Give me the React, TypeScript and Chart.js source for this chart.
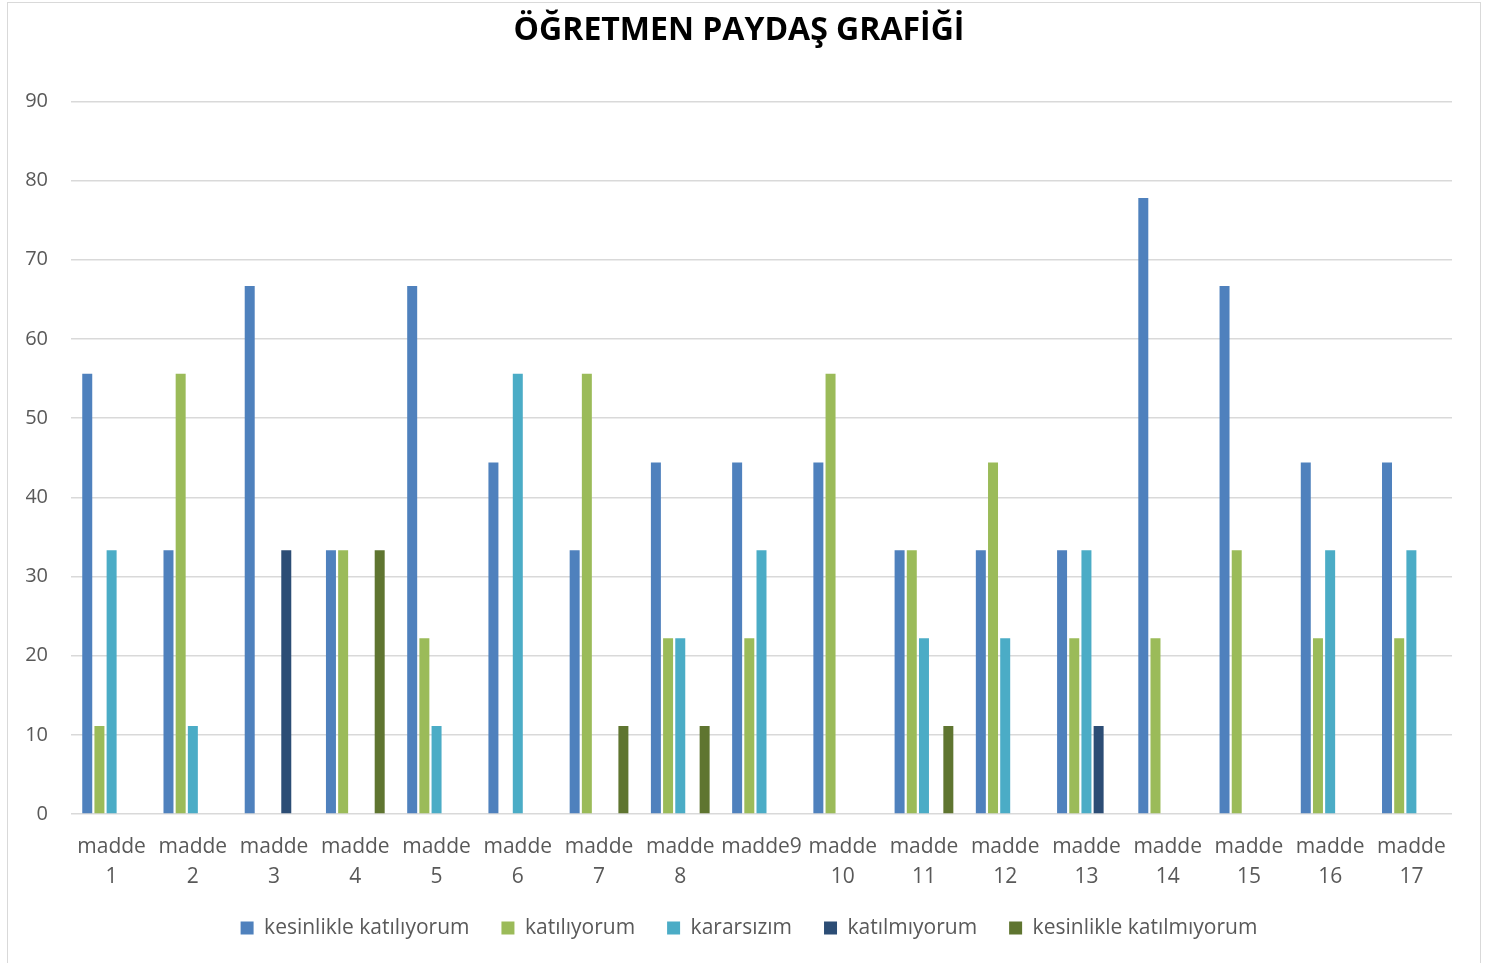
import React, { useEffect, useRef } from "react";
import { Chart, registerables } from "chart.js";

Chart.register(...registerables);

const categories: (string | string[])[] = [
  ["madde", "1"], ["madde", "2"], ["madde", "3"], ["madde", "4"], ["madde", "5"],
  ["madde", "6"], ["madde", "7"], ["madde", "8"], "madde9", ["madde", "10"],
  ["madde", "11"], ["madde", "12"], ["madde", "13"], ["madde", "14"], ["madde", "15"],
  ["madde", "16"], ["madde", "17"],
];

const kesinlikleKatiliyorum = [55.6, 33.3, 66.7, 33.3, 66.7, 44.4, 33.3, 44.4, 44.4, 44.4, 33.3, 33.3, 33.3, 77.8, 66.7, 44.4, 44.4];
const katiliyorum = [11.1, 55.6, 0, 33.3, 22.2, 0, 55.6, 22.2, 22.2, 55.6, 33.3, 44.4, 22.2, 22.2, 33.3, 22.2, 22.2];
const kararsizim = [33.3, 11.1, 0, 0, 11.1, 55.6, 0, 22.2, 33.3, 0, 22.2, 22.2, 33.3, 0, 0, 33.3, 33.3];
const katilmiyorum = [0, 0, 33.3, 0, 0, 0, 0, 0, 0, 0, 0, 0, 11.1, 0, 0, 0, 0];
const kesinlikleKatilmiyorum = [0, 0, 0, 33.3, 0, 0, 11.1, 11.1, 0, 0, 11.1, 0, 0, 0, 0, 0, 0];

const seriesNames = ["kesinlikle katılıyorum", "katılıyorum", "kararsızım", "katılmıyorum", "kesinlikle katılmıyorum"];
const seriesColors = ["#4F81BD", "#9BBB59", "#4BACC6", "#2C4D75", "#5F7530"];
const yTicks = [0, 10, 20, 30, 40, 50, 60, 70, 80, 90];

const FONT = "'Open Sans', sans-serif";
const TEXT = "#595959";

const legendShift = {
  id: "legendShift",
  afterLayout(chart: any) {
    const lg = chart.legend;
    if (lg) {
      lg.left += 10;
      lg.right += 10;
      if (typeof lg.adjustHitBoxes === "function") lg.adjustHitBoxes();
    }
  },
};

export default function App() {
  const ref = useRef<HTMLCanvasElement | null>(null);
  useEffect(() => {
    if (!ref.current) return;
    const values = [kesinlikleKatiliyorum, katiliyorum, kararsizim, katilmiyorum, kesinlikleKatilmiyorum];
    const chart = new Chart(ref.current, {
      type: "bar",
      data: {
        labels: categories,
        datasets: values.map((v, i) => ({
          label: seriesNames[i],
          data: v,
          backgroundColor: seriesColors[i],
          borderWidth: 0,
          barPercentage: 0.82,
          categoryPercentage: 0.75,
        })),
      },
      options: {
        animation: false,
        responsive: false,
        layout: { padding: { left: 26, right: 38, top: 12, bottom: 14.5 } },
        plugins: {
          title: {
            display: true,
            text: "ÖĞRETMEN PAYDAŞ GRAFİĞİ",
            color: "#000000",
            font: { family: FONT, size: 32, weight: "bold" },
            padding: { top: 0, bottom: 51 },
          },
          legend: {
            position: "bottom",
            labels: {
              color: TEXT,
              font: { family: FONT, size: 21 },
              boxWidth: 13,
              boxHeight: 13,
              padding: 32,
            },
          },
          tooltip: { enabled: false },
        },
        scales: {
          x: {
            grid: { display: false },
            border: { display: false },
            ticks: {
              color: TEXT,
              font: { family: FONT, size: 21, lineHeight: 1.43 },
              maxRotation: 0,
              autoSkip: false,
              padding: 10,
            },
            afterFit: (s: any) => { s.height = 71.5; },
          },
          y: {
            min: 0,
            max: 90,
            afterBuildTicks: (s: any) => { s.ticks = yTicks.map((v) => ({ value: v })); },
            grid: { color: "#D9D9D9", lineWidth: 1.5, drawTicks: false },
            border: { display: false },
            ticks: {
              color: TEXT,
              font: { family: FONT, size: 20 },
              padding: 23,
            },
            afterFit: (s: any) => { s.width = 45; },
          },
        },
      },
      plugins: [legendShift],
    });
    return () => chart.destroy();
  }, []);
  return (
    <div style={{ position: "absolute", left: 0, top: 0, width: 1490, height: 963, background: "#fff", overflow: "hidden" }}>
      <div style={{ position: "absolute", left: 7, top: 2, width: 1474, height: 980, border: "1.5px solid #D9D9D9", boxSizing: "border-box" }} />
      <canvas ref={ref} width={1490} height={963} style={{ position: "absolute", left: 0, top: 0 }} />
    </div>
  );
}
